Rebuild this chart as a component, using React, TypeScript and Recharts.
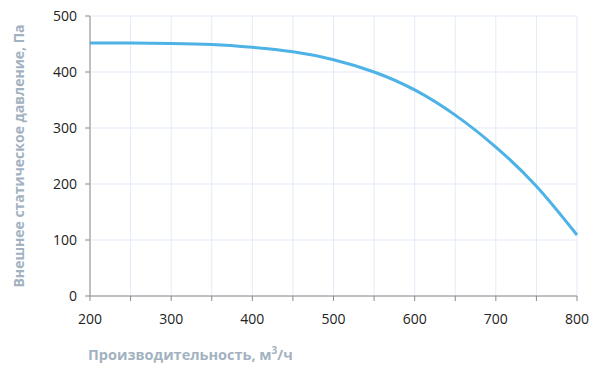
import { LineChart, Line, XAxis, YAxis, CartesianGrid, Label } from "recharts";

const flows = [200, 250, 300, 350, 400, 450, 500, 550, 600, 650, 700, 750, 800];
const pressures = [452, 452, 451, 449, 444, 436, 422, 400, 368, 323, 266, 196, 109];
const xTicks = [200, 250, 300, 350, 400, 450, 500, 550, 600, 650, 700, 750, 800];
const yTicks = [0, 100, 200, 300, 400, 500];

const data = flows.map((flow, i) => ({ flow, pressure: pressures[i] }));

const FONT = "'Open Sans', 'Noto Sans', sans-serif";
const LABEL_COLOR = "#a3b2c0";

function XTitle({ viewBox }: any) {
  const { x } = viewBox;
  return (
    <text x={x - 2} y={360} fill={LABEL_COLOR} fontSize={14.5} fontWeight={700} fontFamily={FONT}>
      Производительность, м
      <tspan dy={-6} fontSize={10}>3</tspan>
      <tspan dy={6}>/ч</tspan>
    </text>
  );
}

function YTitle({ viewBox }: any) {
  const cy = viewBox.y + viewBox.height / 2;
  return (
    <text
      x={24}
      y={cy}
      transform={`rotate(-90, 24, ${cy})`}
      textAnchor="middle"
      fill={LABEL_COLOR}
      fontSize={14}
      fontWeight={700}
      fontFamily={FONT}
    >
      Внешнее статическое давление, Па
    </text>
  );
}

export default function App() {
  return (
    <div style={{ position: "absolute", left: 0, top: 0, background: "#fff" }}>
      <LineChart
        width={600}
        height={374}
        data={data}
        margin={{ top: 16, right: 23, bottom: 0, left: 0 }}
      >
        <CartesianGrid stroke="#e2ebf7" strokeWidth={1} />
        <XAxis
          dataKey="flow"
          type="number"
          domain={[200, 800]}
          ticks={xTicks}
          tickFormatter={(v: number) => (v % 100 === 0 ? String(v) : "")}
          height={78}
          stroke="#8a8a8a"
          tickSize={5}
          tickMargin={13}
          tick={{ fill: "#222", fontSize: 14, fontFamily: FONT }}
        >
          <Label content={<XTitle />} />
        </XAxis>
        <YAxis
          type="number"
          domain={[0, 500]}
          ticks={yTicks}
          width={90}
          stroke="#8a8a8a"
          tickSize={5}
          tickMargin={8}
          tick={{ fill: "#222", fontSize: 14, fontFamily: FONT }}
        >
          <Label content={<YTitle />} />
        </YAxis>
        <Line
          type="natural"
          dataKey="pressure"
          stroke="#4db2e6"
          strokeWidth={3}
          dot={false}
          isAnimationActive={false}
        />
      </LineChart>
    </div>
  );
}
